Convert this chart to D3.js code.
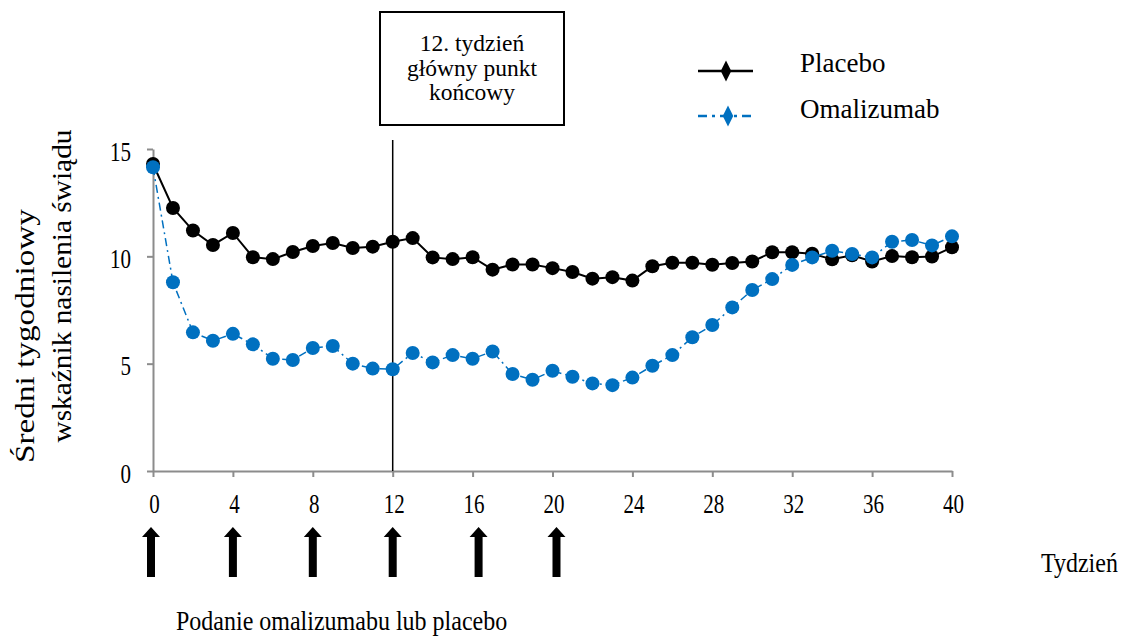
<!DOCTYPE html>
<html>
<head>
<meta charset="utf-8">
<script src="https://cdn.jsdelivr.net/npm/d3@7"></script>
<style>
	body { margin: 0; background: #fff; }
	text { font-family: "Liberation Serif", "Times New Roman", serif; fill: #000; }
</style>
</head>
<body>
<div id="chart"></div>
<script>

//Data
var placebo = [14.3, 12.25, 11.2, 10.53, 11.09, 9.96, 9.87, 10.2, 10.48, 10.62, 10.39,
	10.45, 10.68, 10.85, 9.95, 9.87, 9.96, 9.38, 9.62, 9.62, 9.45, 9.27, 8.96, 9.03, 8.87,
	9.54, 9.7, 9.7, 9.61, 9.69, 9.76, 10.19, 10.19, 10.12, 9.86, 10.05, 9.76, 10.01, 9.96,
	9.99, 10.42];
var omalizumab = [14.15, 8.79, 6.46, 6.07, 6.39, 5.9, 5.23, 5.17, 5.73, 5.82, 5.0,
	4.77, 4.74, 5.5, 5.06, 5.4, 5.23, 5.57, 4.52, 4.25, 4.67, 4.39, 4.08, 4.0, 4.35,
	4.9, 5.4, 6.23, 6.8, 7.62, 8.43, 8.94, 9.6, 9.95, 10.26, 10.11, 9.95, 10.68, 10.76,
	10.51, 10.93];
var xTicks = [0, 4, 8, 12, 16, 20, 24, 28, 32, 36, 40];
var yTicks = [0, 5, 10, 15];
var doseWeeks = [-0.1, 4, 8, 12, 16.3, 20.2];   //arrows under the axis, as placed in the picture
var endpointWeek = 12;
var endpointText = ["12. tydzień", "główny punkt", "końcowy"];
var seriesNames = ["Placebo", "Omalizumab"];
var yTitle = ["Średni tygodniowy", "wskaźnik nasilenia świądu"];
var xTitle = "Tydzień";
var doseTitle = "Podanie omalizumabu lub placebo";

function chart() {
	var w = 1129;
	var h = 638;
	var blue = "#0070c0";
	var axisGrey = "#8c8c8c";
	var tall = " scale(1,1.25)";   //the source text is drawn a bit stretched vertically

	var svg = d3.select("#chart")
		.append("svg")
		.attr("width", w)
		.attr("height", h);

	//Scales
	var xScale = d3.scaleLinear()
		.domain([0, 40])
		.range([153, 952]);

	var yScale = d3.scaleLinear()
		.domain([0, 15])
		.range([471, 149]);

	//X axis: grey line, ticks pointing down
	var xAxis = svg.append("g")
		.attr("transform", "translate(0," + yScale(0) + ")")
		.call(d3.axisBottom(xScale).tickValues(xTicks).tickSize(6).tickSizeOuter(0));
	xAxis.select(".domain").attr("stroke", axisGrey).attr("stroke-width", 2);
	xAxis.selectAll(".tick line").attr("stroke", axisGrey).attr("stroke-width", 2);
	xAxis.selectAll(".tick text")
		.attr("y", 0)
		.attr("dy", 0)
		.attr("transform", "translate(1,42)" + tall)
		.attr("font-size", 21)
		.attr("font-family", "Liberation Serif")
		.attr("fill", "#000");

	//Y axis
	var yAxis = svg.append("g")
		.attr("transform", "translate(" + xScale(0) + ",0)")
		.call(d3.axisLeft(yScale).tickValues(yTicks).tickSize(6).tickSizeOuter(0));
	yAxis.select(".domain").attr("stroke", axisGrey).attr("stroke-width", 2);
	yAxis.selectAll(".tick line").attr("stroke", axisGrey).attr("stroke-width", 2);
	yAxis.selectAll(".tick text")
		.attr("x", 0)
		.attr("dy", 0)
		.attr("transform", "translate(-22,11)" + tall)
		.attr("font-size", 21)
		.attr("font-family", "Liberation Serif")
		.attr("fill", "#000");

	//Week 12 marker line
	svg.append("line")
		.attr("x1", xScale(endpointWeek))
		.attr("x2", xScale(endpointWeek))
		.attr("y1", 140)
		.attr("y2", yScale(0))
		.attr("stroke", "#000")
		.attr("stroke-width", 1.5);

	var line = d3.line()
		.x(function (d, i) { return xScale(i); })
		.y(function (d) { return yScale(d); });

	//Placebo series
	svg.append("path")
		.datum(placebo)
		.attr("d", line)
		.attr("fill", "none")
		.attr("stroke", "#000")
		.attr("stroke-width", 2);

	svg.append("g").selectAll("circle")
		.data(placebo)
		.enter()
		.append("circle")
		.attr("cx", function (d, i) { return xScale(i); })
		.attr("cy", function (d) { return yScale(d); })
		.attr("r", 7)
		.attr("fill", "#000");

	//Omalizumab series, dash-dot
	svg.append("path")
		.datum(omalizumab)
		.attr("d", line)
		.attr("fill", "none")
		.attr("stroke", blue)
		.attr("stroke-width", 1.5)
		.attr("stroke-dasharray", "8,4,2,4");

	svg.append("g").selectAll("circle")
		.data(omalizumab)
		.enter()
		.append("circle")
		.attr("cx", function (d, i) { return xScale(i); })
		.attr("cy", function (d) { return yScale(d); })
		.attr("r", 7)
		.attr("fill", blue);

	//Endpoint box
	svg.append("rect")
		.attr("x", 380)
		.attr("y", 12)
		.attr("width", 184)
		.attr("height", 113)
		.attr("fill", "#fff")
		.attr("stroke", "#000")
		.attr("stroke-width", 2);

	svg.selectAll(".boxText")
		.data(endpointText)
		.enter()
		.append("text")
		.attr("x", 472)
		.attr("y", function (d, i) { return 51 + i * 24.5; })
		.attr("text-anchor", "middle")
		.attr("font-size", 23.5)
		.text(function (d) { return d; });

	//Legend
	var legendY = [71, 116];
	var diamond = d3.symbol().type(d3.symbolDiamond).size(95);

	svg.append("line")
		.attr("x1", 698).attr("x2", 753)
		.attr("y1", legendY[0]).attr("y2", legendY[0])
		.attr("stroke", "#000")
		.attr("stroke-width", 2.5);
	svg.append("path")
		.attr("d", diamond)
		.attr("transform", "translate(726," + legendY[0] + ") scale(1,1.15)")
		.attr("fill", "#000");

	svg.append("line")
		.attr("x1", 698).attr("x2", 753)
		.attr("y1", legendY[1]).attr("y2", legendY[1])
		.attr("stroke", blue)
		.attr("stroke-width", 2.5)
		.attr("stroke-dasharray", "9,5,3,5");
	svg.append("path")
		.attr("d", diamond)
		.attr("transform", "translate(728," + legendY[1] + ") scale(1,1.15)")
		.attr("fill", blue);

	svg.selectAll(".legendText")
		.data(seriesNames)
		.enter()
		.append("text")
		.attr("x", 800)
		.attr("y", function (d, i) { return legendY[i] + 1 + i * 1; })
		.attr("font-size", 27)
		.text(function (d) { return d; });

	//Y axis title, two rotated lines
	var yTitlePos = [[34, 336], [71, 286]];
	var yTitleLen = [254, 313];
	svg.selectAll(".yTitle")
		.data(yTitle)
		.enter()
		.append("text")
		.attr("transform", function (d, i) {
			return "translate(" + yTitlePos[i][0] + "," + yTitlePos[i][1] + ") rotate(-90)";
		})
		.attr("text-anchor", "middle")
		.attr("font-size", 27)
		.attr("textLength", function (d, i) { return yTitleLen[i]; })
		.attr("lengthAdjust", "spacingAndGlyphs")
		.text(function (d) { return d; });

	//X axis title
	svg.append("text")
		.attr("transform", "translate(1041,572) scale(1,1.1)")
		.attr("font-size", 24)
		.text(xTitle);

	//Dosing arrows
	var arrow = "M0,0 L9,10 L4,10 L4,50 L-4,50 L-4,10 L-9,10 Z";
	svg.append("g").selectAll("path")
		.data(doseWeeks)
		.enter()
		.append("path")
		.attr("d", arrow)
		.attr("transform", function (d) { return "translate(" + xScale(d) + ",527)"; })
		.attr("fill", "#000");

	//Bottom caption, kept just inside the lower edge
	svg.append("text")
		.attr("transform", "translate(176,630) scale(1,1.15)")
		.attr("font-size", 24)
		.text(doseTitle);
}

chart();
</script>
</body>
</html>
